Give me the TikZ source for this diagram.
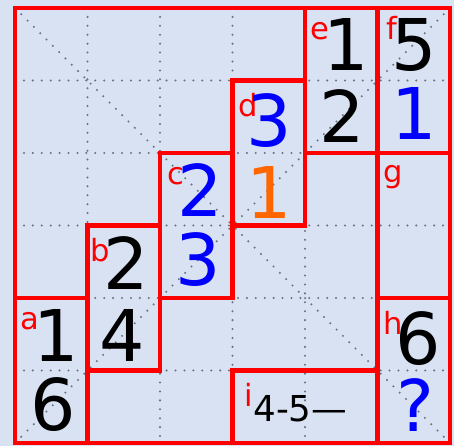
\documentclass[tikz,border=0pt]{standalone}
\usepackage{fontspec}
\setmainfont{DejaVu Sans}
\usepackage{tikz}
\definecolor{sky}{RGB}{217,226,243}
\definecolor{cage}{RGB}{255,0,0}
\definecolor{dots}{RGB}{108,114,126}
\definecolor{given}{RGB}{0,0,255}
\definecolor{hint}{RGB}{255,102,0}

\begin{document}
\begin{tikzpicture}[x=1cm,y=-1cm,
  guide/.style={draw=dots,line width=0.9pt,line cap=round,
                dash pattern=on 0pt off 3.5pt},
  wall/.style={draw=cage,line width=1.8pt},
  num/.style={inner sep=0pt,font=\fontsize{28}{30}\selectfont},
  tag/.style={inner sep=0pt,anchor=base west,text=cage,
              font=\fontsize{12}{14}\selectfont}]
\useasboundingbox (-0.207,-0.110) rectangle (6.055,6.041);
\fill[sky] (-0.207,-0.110) rectangle (6.055,6.041);
% dotted guides
\foreach \k in {1,...,5}{
  \draw[guide] (\k,0)--(\k,6);
  \draw[guide] (0,\k)--(6,\k);
}
\draw[guide] (0,0)--(6,6);
\draw[guide] (6,0)--(0,6);
% cages
\draw[wall] (0,4) rectangle (1,6);
\draw[wall] (1,3) rectangle (2,5);
\draw[wall] (2,2) rectangle (3,4);
\draw[wall] (3,1) rectangle (4,3);
\draw[wall] (4,0) rectangle (5,2);
\draw[wall] (5,0) rectangle (6,2);
\draw[wall] (5,2) rectangle (6,4);
\draw[wall] (5,4) rectangle (6,6);
\draw[wall] (3,5) rectangle (5,6);
\draw[wall] (0,0) rectangle (6,6);
% cage tags
\node[tag] (ta) at (0.07,4.44) {a};
\node[tag] (tb) at (1.04,3.50) {b};
\node[tag] (tc) at (2.09,2.44) {c};
\node[tag] (td) at (3.08,1.50) {d};
\node[tag] (te) at (4.07,0.44) {e};
\node[tag] (tf) at (5.12,0.44) {f};
\node[tag] (tg) at (5.07,2.41) {g};
\node[tag] (th) at (5.07,4.51) {h};
\node[tag] (ti) at (3.16,5.50) {i};
% digits
\node[num] (a1) at (0.57,4.52) {1};
\node[num] (a6) at (0.52,5.47) {6};
\node[num] (b2) at (1.54,3.52) {2};
\node[num] (b4) at (1.48,4.52) {4};
\node[num,text=given] (c2) at (2.55,2.51) {2};
\node[num,text=given] (c3) at (2.53,3.47) {3};
\node[num,text=given] (d3) at (3.51,1.55) {3};
\node[num,text=hint] (d1) at (3.50,2.55) {1};
\node[num] (e1) at (4.57,0.50) {1};
\node[num] (e2) at (4.51,1.49) {2};
\node[num] (f5) at (5.50,0.51) {5};
\node[num,text=given] (f1) at (5.51,1.46) {1};
\node[num] (h6) at (5.56,4.56) {6};
\node[num,text=given] (hq) at (5.52,5.47) {?};
\node[inner sep=0pt,anchor=base west,font=\fontsize{14}{16}\selectfont]
  (sum) at (3.28,5.71) {4-5—};
\end{tikzpicture}
\end{document}
